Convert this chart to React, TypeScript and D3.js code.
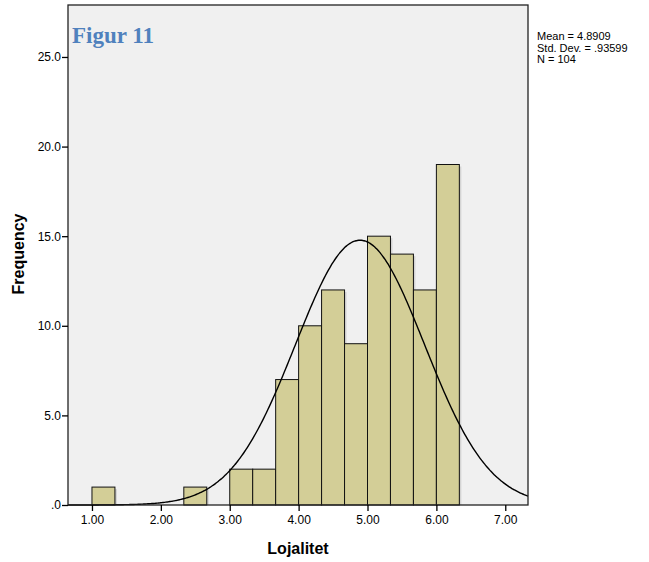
import React, { useEffect, useRef } from 'react';
import * as d3 from 'd3';

// histogram bins (width 1/3) and their counts
const binStarts = [1.0, 2.3333, 3.0, 3.3333, 3.6667, 4.0, 4.3333, 4.6667, 5.0, 5.3333, 5.6667, 6.0];
const counts = [1, 1, 2, 2, 7, 10, 12, 9, 15, 14, 12, 19];
const binWidth = 1 / 3;

const xTicks = [1, 2, 3, 4, 5, 6, 7];
const yTicks = [0, 5, 10, 15, 20, 25];

const mean = 4.8909;
const stdDev = 0.93599;
const n = 104;
const statsLines = ['Mean = 4.8909', 'Std. Dev. = .93599', 'N = 104'];

const W = 649;
const H = 562;
const left = 68, right = 528, top = 5, bottom = 505;

export default function App() {
  const svgRef = useRef<SVGSVGElement>(null);

  useEffect(() => {
    const svg = d3.select(svgRef.current);
    svg.selectAll('*').remove();

    const x = d3.scaleLinear().domain([0.652, 7.33]).range([left, right]);
    const y = d3.scaleLinear().domain([0, 27.9]).range([bottom, top]);

    // plot background
    svg.append('rect')
      .attr('x', left).attr('y', top)
      .attr('width', right - left).attr('height', bottom - top)
      .attr('fill', '#f0f0f0');

    const data = binStarts.map((s, i) => ({ s, c: counts[i] }));

    // bar shadows
    svg.append('g').selectAll('rect')
      .data(data)
      .enter().append('rect')
      .attr('x', d => x(d.s) + 2)
      .attr('y', d => y(d.c) + 2)
      .attr('width', d => x(d.s + binWidth) - x(d.s))
      .attr('height', d => y(0) - y(d.c) - 2)
      .attr('fill', '#d4d4d4');

    // bars
    svg.append('g').selectAll('rect')
      .data(data)
      .enter().append('rect')
      .attr('x', d => x(d.s))
      .attr('y', d => y(d.c))
      .attr('width', d => x(d.s + binWidth) - x(d.s))
      .attr('height', d => y(0) - y(d.c))
      .attr('fill', '#d3ce97')
      .attr('stroke', '#111')
      .attr('stroke-width', 1);

    // fitted normal curve from the displayed statistics
    const scale = n * binWidth / (stdDev * Math.sqrt(2 * Math.PI));
    const curvePts = d3.range(0.652, 7.33, 0.02).concat([7.33]).map(v => [v, scale * Math.exp(-0.5 * ((v - mean) / stdDev) ** 2)] as [number, number]);
    svg.append('path')
      .datum(curvePts)
      .attr('d', d3.line<[number, number]>().x(d => x(d[0])).y(d => y(d[1])).curve(d3.curveBasis))
      .attr('fill', 'none')
      .attr('stroke', '#000')
      .attr('stroke-width', 1.4);

    // frame
    svg.append('rect')
      .attr('x', left).attr('y', top)
      .attr('width', right - left).attr('height', bottom - top)
      .attr('fill', 'none')
      .attr('stroke', '#222')
      .attr('stroke-width', 1.3);

    // y axis
    const yAxis = d3.axisLeft(y).tickValues(yTicks).tickSize(6).tickPadding(1)
      .tickFormat(d => (+d === 0 ? '.0' : d3.format('.1f')(+d)));
    svg.append('g').attr('transform', `translate(${left},0)`).call(yAxis)
      .call(g => g.select('.domain').remove())
      .call(g => g.selectAll('line').attr('stroke', '#000').attr('stroke-width', 1.3))
      .call(g => g.selectAll('text').attr('font-family', 'Arial, "Liberation Sans", sans-serif').attr('font-size', 12).attr('fill', '#000'));

    // x axis
    const xAxis = d3.axisBottom(x).tickValues(xTicks).tickSize(6).tickPadding(4)
      .tickFormat(d => d3.format('.2f')(+d));
    svg.append('g').attr('transform', `translate(0,${bottom})`).call(xAxis)
      .call(g => g.select('.domain').remove())
      .call(g => g.selectAll('line').attr('stroke', '#000').attr('stroke-width', 1.3))
      .call(g => g.selectAll('text').attr('font-family', 'Arial, "Liberation Sans", sans-serif').attr('font-size', 12).attr('fill', '#000'));

    // axis titles
    svg.append('text')
      .attr('x', (left + right) / 2).attr('y', 554)
      .attr('text-anchor', 'middle')
      .attr('font-family', 'Arial, "Liberation Sans", sans-serif')
      .attr('font-weight', 'bold').attr('font-size', 16)
      .text('Lojalitet');
    svg.append('text')
      .attr('transform', 'translate(24,254) rotate(-90)')
      .attr('text-anchor', 'middle')
      .attr('font-family', 'Arial, "Liberation Sans", sans-serif')
      .attr('font-weight', 'bold').attr('font-size', 16)
      .text('Frequency');

    // title
    svg.append('text')
      .attr('x', 72).attr('y', 43)
      .attr('font-family', '"Liberation Serif", "Times New Roman", serif')
      .attr('font-weight', 'bold').attr('font-size', 23)
      .attr('fill', '#4f81bd')
      .text('Figur 11');

    // stats
    svg.append('g').selectAll('text')
      .data(statsLines)
      .enter().append('text')
      .attr('x', 537)
      .attr('y', (d, i) => 40 + i * 11.5)
      .attr('font-family', 'Arial, "Liberation Sans", sans-serif')
      .attr('font-size', 11)
      .text(d => d);
  }, []);

  return (
    <svg ref={svgRef} width={W} height={H}
      style={{ position: 'absolute', left: 0, top: 0, background: '#fff' }} />
  );
}
